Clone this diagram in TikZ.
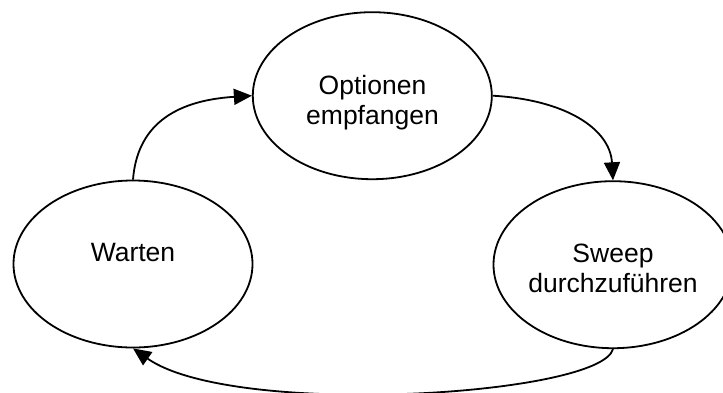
\documentclass[tikz,border=0pt]{standalone}
\usepackage{fontspec}
\setmainfont{Liberation Sans}
\usetikzlibrary{arrows.meta,shapes.geometric}
\begin{document}
\begin{tikzpicture}[x=1pt,y=1pt,
  state/.style={draw, ellipse, fill=white, line width=1.8pt,
    minimum width=239pt, minimum height=167pt, inner sep=0pt},
  caption/.style={inner sep=0pt, align=center, font=\fontsize{26.5}{30}\selectfont},
  flow/.style={line width=1.8pt, -{Triangle[length=18pt,width=16pt]}}]
\useasboundingbox (0,0) rectangle (723,-392);
\fill[white] (0,0) rectangle (723,-392);
% the three states
\node[state] (opt) at (372.3,-95.7) {};
\node[state] (wait) at (133,-264) {};
\node[state] (sweep) at (613,-264.7) {};
% their captions
\node[caption, anchor=center] (optl) at (372.5,-103) {Optionen\\empfangen};
\node[caption, anchor=base] (waitl) at (133,-261.7) {Warten};
\node[caption, anchor=center] (sweepl) at (613,-268.5) {Sweep\\durchzuführen};
% transitions
\draw[flow] (wait.north) .. controls +(4,52) and +(-80,-5) .. (opt.west);
\draw[flow] (opt.east) .. controls +(72,-4) and +(-3,52) .. (sweep.north);
\draw[flow] (sweep.south) .. controls +(-13,-47) and +(100,-70) .. (wait.south);
\end{tikzpicture}
\end{document}
